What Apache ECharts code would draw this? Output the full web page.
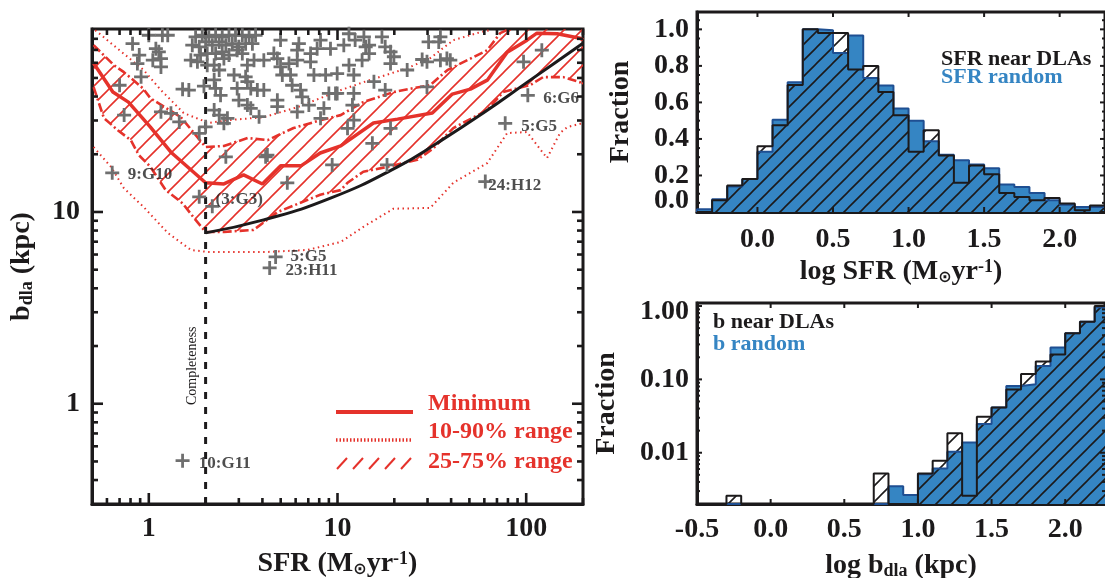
<!DOCTYPE html>
<html>
<head>
<meta charset="utf-8">
<style>html,body{margin:0;padding:0;background:#fff}#main{width:1105px;height:578px}</style>
<script src="https://cdn.jsdelivr.net/npm/echarts@6/dist/echarts.min.js"></script>
</head>
<body>
<div id="main"></div>
<script>
// left panel: b_dla vs SFR
var minSfr = [0.51,0.645,0.78,1.02,1.31,2.0,2.5,3.18,4.0,5,6.4,8.1,10.4,15.5,20.8,31.8,40.6,50.6,62.2,79.3,101,114,146,193,200];
var minB = [59.7,42.2,37.4,27.7,20.5,14.2,14,15.6,14,17.4,17.4,20.3,22.1,29.1,30.5,32.8,41.2,43.7,48.7,68.1,78.7,85.6,85,80.6,79];
var limitSfr = [2,4.06,9.18,20.8,33.8,59.2,105,193,200];
var limitB = [7.78,9.09,11.8,17.2,22.9,32.8,48.7,74.1,76];
var q75Sfr = [0.51,0.653,0.738,0.93,1.02,1.48,2,2.5,3.34,4.26,5.85,8.1,10.4,13.7,19.8,25.2,31,38.2,48.8,62.2,72.8,79.3];
var q75B = [74.1,58.3,53.6,44.2,39.2,31.2,21.8,22.1,24.3,23.7,27.4,30.1,32,37.4,42.2,44.2,45.9,54.9,61.9,69.8,85.6,89];
var q25Sfr = [0.51,0.578,0.685,0.803,0.885,1.02,1.23,1.51,1.77,2,2.5,3.59,4.82,8.1,10.4,11.3,13.7,18.4,26.5,32.2,41.1,62.2,75.5,105,123,157,193,200];
var q25B = [44.8,30.9,26.7,23.7,19.8,17.2,13,11.1,9.09,7.87,7.87,8.06,10,12.3,13,14.2,16.2,17.2,18.7,21.5,27.4,34,42.2,45.9,50.5,50.5,47.5,46];
var p90Sfr = [0.52,0.94,1.16,1.53,2.08,2.62,4.06,6.14,10.4,13.7,23.4,31,41.1,57.1,64.5];
var p90B = [88.7,54.9,43.2,32.8,29.1,30.1,31.2,35.2,43.2,47.5,56.2,63.4,78.7,86.6,88.7];
var p10Sfr = [0.51,0.63,0.738,0.94,1.26,1.67,2.05,4.26,6.94,10.4,13.7,19.8,31,41.1,62.2,79.3,101,129,151,165,200];
var p10B = [21.8,17.2,13.3,10.6,7.78,6.34,6.19,6.19,6.34,6.98,8.36,10.4,10.5,14.2,18,25.8,26.1,19.1,25.8,27.7,29.1];

var galaxySfr = [0.82,1.0,1.18,1.26,1.09,1.13,0.89,0.87,1.05,1.16,1.16,0.91,0.70,0.74,1.16,1.31,1.45,1.85,2.0,1.51,1.63,1.96,2.26,2.40,2.22,2.22,2.36,2.61,2.50,3.0,3.33,3.47,3.84,4.8,4.8,3.47,3.76,4.07,2.94,2.83,3.26,3.33,3.33,3.61,4.07,4.8,4.6,4.99,5.1,5.64,5.75,5.53,6.12,6.24,6.12,4.99,7.2,7.8,8.13,7.2,7.5,8.65,9.96,6.37,6.5,7.05,9.0,9.96,8.47,8.13,6.12,2.56,4.16,4.25,5.42,9.37,1.85,2.17,0.64,
  1.77,1.92,2.08,2.26,2.45,2.66,2.88,3.13,3.40,3.68,1.7,1.85,2.0,2.17,2.36,2.56,2.77,3.0,3.26,3.54,1.67,1.81,2.04,2.26,2.45,2.66,2.94,3.13,2.04,2.22,2.36,2.5,1.88,
  9.18,10.8,11.5,12.4,13.8,14.1,14.7,17.2,14.7,13.5,17.9,19.1,19.9,19.1,11.5,12.2,15.6,17.9,23.4,28.1,29.8,35.1,38,39.6,30.4,34.4,35.1,9.76,12.2,12,12.2,11.3,19.1,15.3,29.8,18.3,96.8,121,102,77.4,60.7,4.7,4.37,1.51];
var galaxyB = [75.5,83.5,83.5,83.5,71.1,68.4,65.8,59.4,61.9,63.1,57.1,50.7,45.8,32,33.3,32.7,29.5,25.7,27.8,43.7,43.2,45.3,44.1,40.6,48.8,34,32,30.8,29,38.3,36.1,34.7,31.4,38.3,35.4,44.1,43.2,43.2,44.1,51.8,50.7,47.8,58.3,61.9,61.9,63.1,67,57.1,51.8,51.8,45.8,59.4,61.9,75.5,69.8,78.8,67,71.1,78.8,60.7,51.8,51.8,52.7,43.2,39.8,36.1,41.5,41.5,34.7,30.8,33.3,19.4,19.4,19.8,14.2,17.6,12,10.7,16,
  81.9,83.5,81.9,83.5,81.9,83.5,83.5,83.5,81.9,83.5,74.1,72.7,77.1,74.1,77.1,74.1,75.5,72.7,75.5,75.5,61.9,60.7,58.3,67,68.4,65.8,69.8,67,67,58.3,55,63.1,65.8,
  71.1,74.1,85,78.8,81.9,72.7,74.1,81.9,67,61.9,72.7,68.4,64.5,59.4,58.3,51.8,47.8,43.2,55,62.4,60.7,61.9,63.1,61.9,77.1,77.1,81.9,41.5,41.5,36.1,30.1,27.3,27.3,22.8,44.9,17.6,60.7,69.8,40.6,29,14.4,5.83,5.11,0.505];

var pointNames = ['9:G10','(3:G3)','5:G5','23:H11','6:G6','5:G5','24:H12','10:G11'];
var pointNameSfr = [0.774,2.26,5.64,5.3,123,94,63,1.84];
var pointNameB = [15.6,11.55,5.83,4.93,38.8,28,13.8,0.487];

var sfrMajor = [1,10,100];
var sfrMinor = [0.6,0.7,0.8,0.9,2,3,4,5,6,7,8,9,20,30,40,50,60,70,80,90,200];
var bMajor = [1,10];
var bMinor = [0.4,0.5,0.6,0.7,0.8,0.9,2,3,4,5,6,7,8,9,20,30,40,50,60,70,80];

// top right: SFR histograms, bins are 0.1 dex wide
var sfrEdges = [-0.4,-0.3,-0.2,-0.1,0,0.1,0.2,0.3,0.4,0.5,0.6,0.7,0.8,0.9,1.0,1.1,1.2,1.3,1.4,1.5,1.6,1.7,1.8,1.9,2.0,2.1,2.2,2.3];
var sfrNear = [0.0,0.065,0.145,0.18,0.36,0.475,0.695,1.0,0.98,0.98,0.78,0.80,0.657,0.53,0.33,0.447,0.31,0.16,0.255,0.206,0.104,0.082,0.064,0.077,0.046,0.009,0.036];
var sfrRandom = [0.015,0.07,0.14,0.18,0.33,0.505,0.71,1.0,0.995,0.87,0.967,0.733,0.693,0.566,0.50,0.387,0.314,0.283,0.26,0.24,0.15,0.137,0.104,0.064,0.04,0.027,0.027];
var sfrTickLabels = [0,0.5,1,1.5,2];
// the 0.0 label sits above its tick in the original, so it is placed apart
var fracTickLabels = [0.2,0.4,0.6,0.8,1];

// bottom right: impact parameter histograms
var bEdges = [-0.5,-0.4,-0.3,-0.2,-0.1,0,0.1,0.2,0.3,0.4,0.5,0.6,0.7,0.8,0.9,1.0,1.1,1.2,1.3,1.4,1.5,1.6,1.7,1.8,1.9,2.0,2.1,2.2,2.3];
var bNear = [0,0,0.0026,0,0,0,0,0,0,0,0,0,0.0052,0,0,0.0052,0.0078,0.0184,0.0026,0.031,0.0415,0.073,0.118,0.176,0.219,0.424,0.611,1.0];
var bRandom = [0,0,0,0,0,0,0,0,0,0,0,0,0,0.0035,0.00265,0.0051,0.0061,0.0103,0.0138,0.0246,0.0415,0.081,0.086,0.152,0.273,0.424,0.611,0.96];
var bTickLabels = [-0.5,0,0.5,1,1.5,2];
var fracLogMajor = [0.01,0.1,1];
var fracLogMinor = [0.003,0.004,0.005,0.006,0.007,0.008,0.009,0.02,0.03,0.04,0.05,0.06,0.07,0.08,0.09,0.2,0.3,0.4,0.5,0.6,0.7,0.8,0.9];

var serif = '"Liberation Serif"';
var RED = '#e5322b', BLUE = '#3585c3', NAVY = '#1f4f92', INK = '#1c1a1b', GREY = '#6f6f6f';
var PLUS = 'path://M4 0h2v4h4v2H6v4H4V6H0V4h4z';

function hatch(size, color, width) {
  var c = document.createElement('canvas');
  c.width = size; c.height = size;
  var g = c.getContext('2d');
  g.strokeStyle = color; g.lineWidth = width;
  g.beginPath();
  g.moveTo(-size, size); g.lineTo(size, -size);
  g.moveTo(0, size); g.lineTo(size, 0);
  g.moveTo(0, size * 2); g.lineTo(size * 2, 0);
  g.stroke();
  return {image: c, repeat: 'repeat'};
}
var redHatch = hatch(18, RED, 1.6);
var inkHatch = hatch(16, INK, 1.6);

function zip(a, b) {
  return a.map(function (v, i) { return [v, b[i]]; });
}

function steps(edges, vals, floor) {
  var pts = [[edges[0], floor]];
  vals.forEach(function (v, i) {
    var y = v > floor ? v : floor;
    pts.push([edges[i], y]);
    pts.push([edges[i + 1], y]);
  });
  pts.push([edges[vals.length], floor]);
  return pts;
}

function curve(idx, pts, color, width, dash, smooth) {
  return {
    type: 'line', xAxisIndex: idx, yAxisIndex: idx, data: pts,
    symbol: 'none', silent: true, clip: true, z: 4, smooth: smooth || false,
    lineStyle: {color: color, width: width, type: dash || 'solid'}
  };
}

function histo(idx, pts, line, fill) {
  return {
    type: 'line', xAxisIndex: idx, yAxisIndex: idx, data: pts,
    symbol: 'none', silent: true, clip: true, z: 3,
    lineStyle: {color: line, width: 2},
    areaStyle: {color: fill, opacity: 1, origin: 'start'}
  };
}

// ticks on all four sides of a panel, pointing inwards
function ticks(idx, xr, yr, xMaj, xMin, yMaj, yMin, lenMaj, lenMin, w) {
  var rows = [];
  xMaj.forEach(function (v) { rows.push([0, v, lenMaj]); });
  xMin.forEach(function (v) { rows.push([0, v, lenMin]); });
  yMaj.forEach(function (v) { rows.push([1, v, lenMaj]); });
  yMin.forEach(function (v) { rows.push([1, v, lenMin]); });
  return {
    type: 'custom', xAxisIndex: idx, yAxisIndex: idx, data: rows, z: 6, silent: true, clip: false,
    renderItem: function (params, api) {
      var vert = api.value(0) === 0, v = api.value(1), len = api.value(2), a, b, segs;
      if (vert) {
        a = api.coord([v, yr[0]]); b = api.coord([v, yr[1]]);
        segs = [[a[0], a[1], a[0], a[1] - len], [b[0], b[1], b[0], b[1] + len]];
      } else {
        a = api.coord([xr[0], v]); b = api.coord([xr[1], v]);
        segs = [[a[0], a[1], a[0] + len, a[1]], [b[0], b[1], b[0] - len, b[1]]];
      }
      return {
        type: 'group',
        children: segs.map(function (s) {
          return {type: 'line', shape: {x1: s[0], y1: s[1], x2: s[2], y2: s[3]},
            style: {stroke: INK, lineWidth: w}};
        })
      };
    }
  };
}

var titleRich = {
  t: {fontFamily: serif, fontWeight: 'bold', fontSize: 28, color: INK},
  d: {fontFamily: serif, fontWeight: 'bold', fontSize: 18, color: INK, verticalAlign: 'bottom', padding: [10, 0, 0, 0]},
  o: {fontFamily: 'DejaVu Sans', fontSize: 16, color: INK, verticalAlign: 'bottom', padding: [10, 0, 0, 0]},
  s: {fontFamily: serif, fontWeight: 'bold', fontSize: 18, color: INK, verticalAlign: 'top', padding: [0, 0, 8, 0]}
};
var SFR_NAME = '{t|SFR (M}{o|⊙}{t|yr}{s|-1}{t|)}';
var tickFont = {fontFamily: serif, fontWeight: 'bold', fontSize: 28, color: INK};

function axisBase(o) {
  var a = {
    nameLocation: 'middle', nameTextStyle: {rich: titleRich, fontFamily: serif, fontWeight: 'bold', fontSize: 28, color: INK},
    axisLine: {show: true, onZero: false, lineStyle: {color: INK, width: 3}},
    axisTick: {show: false}, splitLine: {show: false}, minorTick: {show: false}, minorSplitLine: {show: false},
    axisLabel: tickFont
  };
  for (var k in o) {
    if (k === 'axisLabel') {
      a.axisLabel = Object.assign({}, tickFont, o.axisLabel);
    } else {
      a[k] = o[k];
    }
  }
  return a;
}

var bandSeries = {
  type: 'custom', xAxisIndex: 0, yAxisIndex: 0, data: [[1, 1]], z: 2, silent: true, clip: true,
  renderItem: function (params, api) {
    var ring = zip(q75Sfr, q75B).concat([[200, 90]], zip(q25Sfr, q25B).reverse());
    return {
      type: 'polygon',
      shape: {points: ring.map(function (p) { return api.coord(p); })},
      style: {fill: redHatch, stroke: 'none'}
    };
  }
};

function legendText(t, y) {
  return {type: 'text', left: 428, top: y,
    style: {text: t, fill: RED, font: 'bold 24px ' + serif}};
}
function panelText(t, x, y, color) {
  return {type: 'text', left: x, top: y,
    style: {text: t, fill: color, font: 'bold 22px ' + serif}};
}
function legendSlash(x) {
  return {type: 'line', shape: {x1: x, y1: 469, x2: x + 10, y2: 458}, style: {stroke: RED, lineWidth: 2}};
}

var chart = echarts.init(document.getElementById('main'), null, {renderer: 'canvas'});

var option = {
  animation: false,
  backgroundColor: '#fff',
  grid: [
    {left: 92, top: 29, width: 491, height: 475, show: true, borderColor: INK, borderWidth: 3, outerBoundsMode: 'none'},
    {left: 697, top: 12, width: 408, height: 200, show: true, borderColor: INK, borderWidth: 3, outerBoundsMode: 'none'},
    {left: 697, top: 303, width: 408, height: 201, show: true, borderColor: INK, borderWidth: 3, outerBoundsMode: 'none'}
  ],
  xAxis: [
    axisBase({gridIndex: 0, type: 'log', logBase: 10, min: 0.5, max: 200, name: SFR_NAME, nameGap: 46,
      axisLabel: {margin: 11, showMinLabel: false, showMaxLabel: false}}),
    axisBase({gridIndex: 1, type: 'value', min: -0.4, max: 2.3, name: 'log ' + SFR_NAME, nameGap: 46,
      axisLabel: {customValues: sfrTickLabels, margin: 14, formatter: function (v) { return v.toFixed(1); }}}),
    axisBase({gridIndex: 2, type: 'value', min: -0.5, max: 2.27, name: 'log {t|b}{d|dla}{t| (kpc)}', nameGap: 48,
      axisLabel: {customValues: bTickLabels, margin: 12, formatter: function (v) { return v.toFixed(1); }}})
  ],
  yAxis: [
    axisBase({gridIndex: 0, type: 'log', logBase: 10, min: 0.3, max: 90, name: '{t|b}{d|dla}{t| (kpc)}', nameGap: 56,
      axisLabel: {margin: 12, showMinLabel: false, showMaxLabel: false}}),
    axisBase({gridIndex: 1, type: 'value', min: 0, max: 1.095, name: 'Fraction', nameGap: 62,
      axisLabel: {customValues: fracTickLabels, margin: 8,
        formatter: function (v) { return v.toFixed(1); }}}),
    axisBase({gridIndex: 2, type: 'log', logBase: 10, min: 0.002, max: 1.1, name: 'Fraction', nameGap: 76,
      axisLabel: {margin: 8, showMinLabel: false, showMaxLabel: false,
        rich: {up: {fontFamily: serif, fontWeight: 'bold', fontSize: 28, color: INK, padding: [12, 0, 0, 0]}},
        formatter: function (v) { return v === 1 ? '{up|1.00}' : v.toFixed(2); }}})
  ],
  series: [
    bandSeries,
    curve(0, zip(p90Sfr, p90B), RED, 2, [1.5, 3.5]),
    curve(0, zip(p10Sfr, p10B), RED, 2, [1.5, 3.5]),
    curve(0, zip(q75Sfr, q75B), RED, 2.6, [9, 3, 2, 3]),
    curve(0, zip(q25Sfr, q25B), RED, 2.6, [9, 3, 2, 3]),
    curve(0, zip(minSfr, minB), RED, 3.5),
    curve(0, zip(limitSfr, limitB), INK, 3, null, true),
    curve(0, [[2, 0.3], [2, 90]], INK, 3, [7, 8]),
    {
      type: 'scatter', xAxisIndex: 0, yAxisIndex: 0, data: zip(galaxySfr, galaxyB), z: 5, silent: true,
      symbol: PLUS, symbolSize: 14, itemStyle: {color: GREY, opacity: 1}
    },
    {
      type: 'scatter', xAxisIndex: 0, yAxisIndex: 0, z: 7, silent: true, symbolSize: 0,
      data: pointNames.map(function (n, i) { return {name: n, value: [pointNameSfr[i], pointNameB[i]]}; }),
      label: {show: true, position: 'right', distance: 0, formatter: '{b}',
        fontFamily: serif, fontWeight: 'bold', fontSize: 17, color: '#222'}
    },
    ticks(0, [0.5, 200], [0.3, 90], sfrMajor, sfrMinor, bMajor, bMinor, 11, 6, 2.6),

    histo(1, steps(sfrEdges, sfrRandom, 0), NAVY, BLUE),
    histo(1, steps(sfrEdges, sfrNear, 0), INK, inkHatch),
    ticks(1, [-0.4, 2.3], [0, 1.095], [0, 0.5, 1, 1.5, 2], [], [0, 0.2, 0.4, 0.6, 0.8, 1],
      [0.05, 0.1, 0.15, 0.25, 0.3, 0.35, 0.45, 0.5, 0.55, 0.65, 0.7, 0.75, 0.85, 0.9, 0.95, 1.05], 5, 3, 2),

    histo(2, steps(bEdges, bRandom, 0.002), NAVY, BLUE),
    histo(2, steps(bEdges, bNear, 0.002), INK, inkHatch),
    ticks(2, [-0.5, 2.27], [0.002, 1.1], [-0.5, 0, 0.5, 1, 1.5, 2], [], fracLogMajor, fracLogMinor, 5, 3, 2)
  ],
  graphic: [
    {type: 'text', x: 185, y: 405, rotation: Math.PI / 2,
      style: {text: 'Completeness', fill: INK, font: '14px ' + serif, align: 'left', verticalAlign: 'top'}},
    {type: 'text', x: 689, y: 201,
      style: {text: '0.0', fill: INK, font: 'bold 28px ' + serif, align: 'right', verticalAlign: 'middle'}},
    {type: 'line', shape: {x1: 336, y1: 412, x2: 413, y2: 412}, style: {stroke: RED, lineWidth: 4}},
    {type: 'line', shape: {x1: 336, y1: 440, x2: 413, y2: 440}, style: {stroke: RED, lineWidth: 3.5, lineDash: [1.5, 2]}},
    legendSlash(337), legendSlash(353), legendSlash(369), legendSlash(385), legendSlash(401),
    legendText('Minimum', 392),
    legendText('10-90% range', 420),
    legendText('25-75% range', 450),
    panelText('SFR near DLAs', 941, 48, INK),
    panelText('SFR random', 941, 66, BLUE),
    panelText('b near DLAs', 713, 311, INK),
    panelText('b random', 713, 333, BLUE)
  ]
};
chart.setOption(option);
</script>
</body>
</html>
